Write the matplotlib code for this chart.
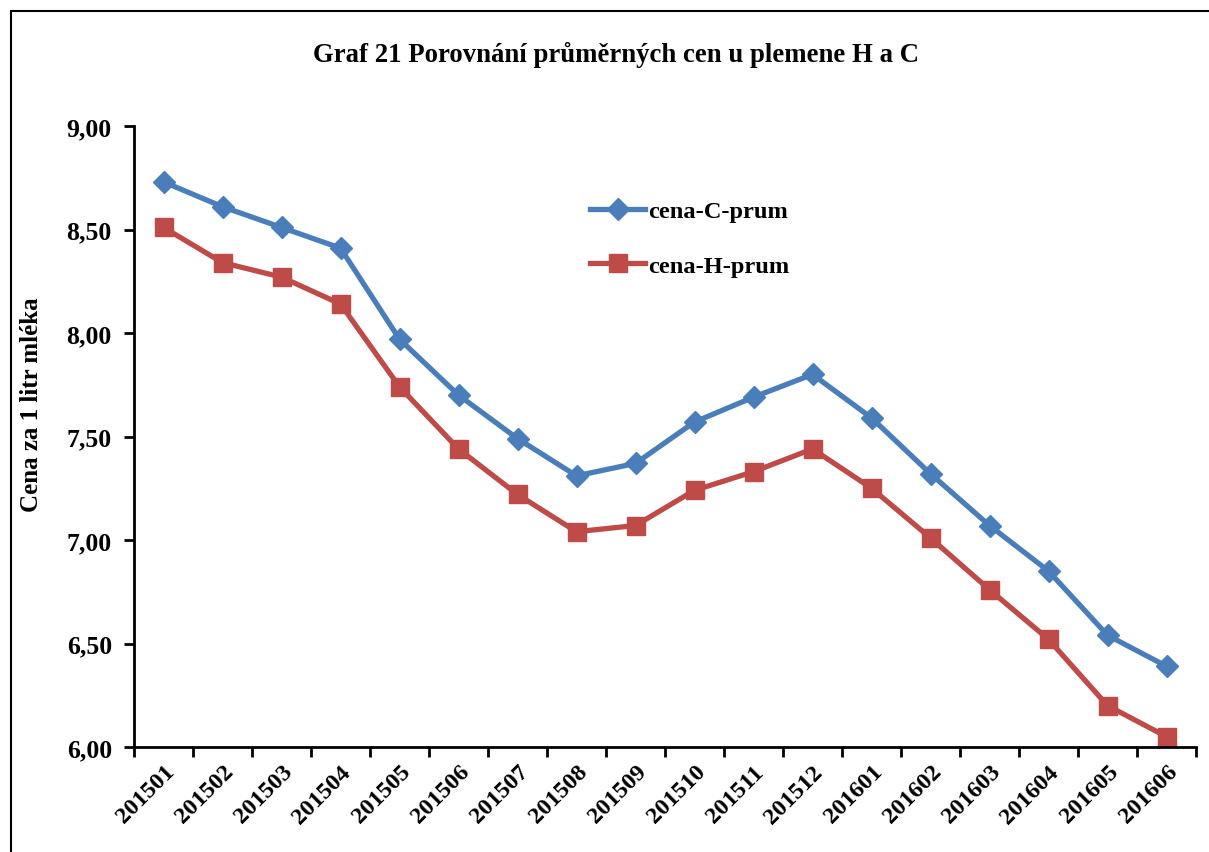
import matplotlib
matplotlib.use("Agg")
import matplotlib.pyplot as plt
from matplotlib.ticker import FuncFormatter, FixedLocator
from matplotlib.patches import Rectangle
from matplotlib.transforms import ScaledTranslation

months = ["201501", "201502", "201503", "201504", "201505", "201506", "201507",
          "201508", "201509", "201510", "201511", "201512", "201601", "201602",
          "201603", "201604", "201605", "201606"]
cena_C = [8.73, 8.61, 8.51, 8.41, 7.97, 7.70, 7.49, 7.31, 7.37, 7.57, 7.69, 7.80,
          7.59, 7.32, 7.07, 6.85, 6.54, 6.39]
cena_H = [8.51, 8.34, 8.27, 8.14, 7.74, 7.44, 7.22, 7.04, 7.07, 7.24, 7.33, 7.44,
          7.25, 7.01, 6.76, 6.52, 6.20, 6.05]

plt.rcParams['font.family'] = ['Liberation Serif', 'DejaVu Serif']
plt.rcParams['font.weight'] = 'bold'

fig = plt.figure(figsize=(12.09, 8.53), dpi=100)
fig.patches.append(Rectangle((11/1209, -0.1), 1.2, 1 - 12/853 + 0.1,
                             transform=fig.transFigure, fill=False,
                             edgecolor='black', linewidth=1.5))

ax = fig.add_axes([134/1209, 1 - 748/853, (1196 - 134)/1209, (748 - 127)/853])
x = list(range(len(months)))
ax.plot(x, cena_C, color='#4A7EBB', lw=3.8, marker='D', ms=11,
        label='cena-C-prum')
ax.plot(x, cena_H, color='#BE4B48', lw=3.8, marker='s', ms=13,
        label='cena-H-prum')

ax.set_xlim(-0.5, len(months) - 0.5)
ax.set_ylim(6.0, 9.0)
ax.set_yticks([6.0, 6.5, 7.0, 7.5, 8.0, 8.5, 9.0])
ax.yaxis.set_major_formatter(FuncFormatter(lambda v, p: f"{v:.2f}".replace('.', ',')))
ax.set_xticks(x)
ax.set_xticklabels(months, rotation=45, ha='right', rotation_mode='anchor',
                   fontsize=17.5, fontweight='bold')
off = ScaledTranslation(-7/100, -2/100, fig.dpi_scale_trans)
for t in ax.get_xticklabels():
    t.set_transform(t.get_transform() + off)
ax.tick_params(axis='x', length=0, pad=10)
ax.xaxis.set_minor_locator(FixedLocator([i - 0.5 for i in range(len(months) + 1)]))
ax.tick_params(axis='x', which='minor', length=7, width=2, direction='out')
ax.tick_params(axis='y', length=7, width=2, direction='out', labelsize=18.5, pad=9)
for t in ax.get_yticklabels():
    t.set_fontweight('bold')

for s in ['top', 'right']:
    ax.spines[s].set_visible(False)
for s in ['left', 'bottom']:
    ax.spines[s].set_linewidth(2)

ax.set_ylabel('Cena za 1 litr mléka', fontsize=18, fontweight='bold')
ax.yaxis.set_label_coords((43 - 134) / 1062, (748 - 405) / 621)
fig.text(616/1209, 1 - 55/853, 'Graf 21 Porovnání průměrných cen u plemene H a C',
         ha='center', va='center', fontsize=19.3, fontweight='bold')

leg = ax.legend(loc='upper left',
                bbox_to_anchor=((590 - 134) / 1062, (748 - 201) / 621),
                frameon=False, handlelength=2.25, labelspacing=1.33,
                handletextpad=0.12, borderpad=0, borderaxespad=0,
                prop={'weight': 'bold', 'size': 17.6})

fig.savefig('out.png', dpi=100)
